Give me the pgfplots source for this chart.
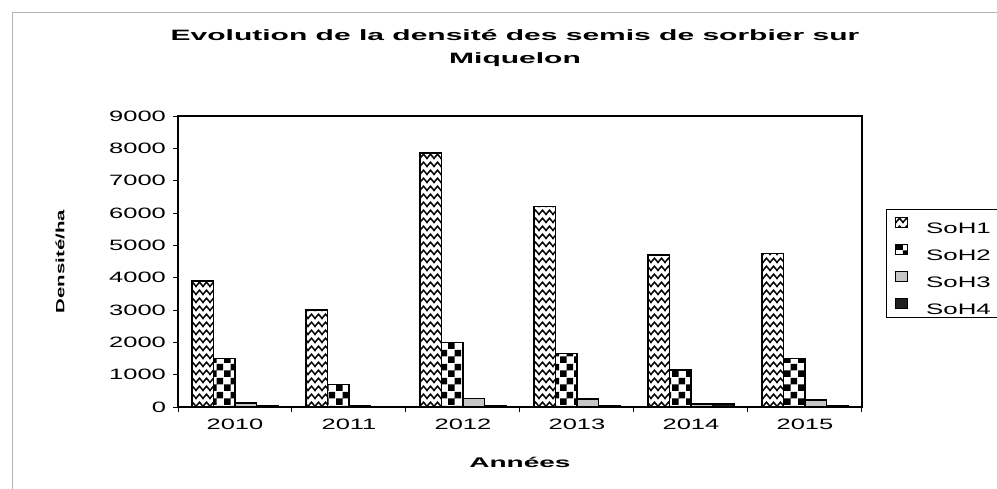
\documentclass[border=0pt]{standalone}
\usepackage{fontspec}
\setmainfont[FakeStretch=1.7]{Liberation Sans}
\newfontfamily\boldstretch[FakeStretch=2.0]{Liberation Sans}
\usepackage{pgfplots}
\pgfplotsset{compat=1.18}
\usetikzlibrary{patterns}
\pgfdeclarepatternformonly{zigzag}{\pgfpoint{-0.3pt}{-0.3pt}}{\pgfpoint{3.8pt}{4.3pt}}{\pgfpoint{3.5pt}{4pt}}{%
  \pgfsetlinewidth{0.75pt}%
  \pgfpathmoveto{\pgfpoint{-0.3pt}{0.5pt}}%
  \pgfpathlineto{\pgfpoint{1.75pt}{2.9pt}}%
  \pgfpathlineto{\pgfpoint{3.8pt}{0.5pt}}%
  \pgfusepath{stroke}}
\pgfdeclarepatternformonly{mychecker}{\pgfpointorigin}{\pgfpoint{7pt}{7pt}}{\pgfpoint{7pt}{7pt}}{%
  \pgfpathrectangle{\pgfpointorigin}{\pgfpoint{3.5pt}{3.5pt}}%
  \pgfpathrectangle{\pgfpoint{3.5pt}{3.5pt}}{\pgfpoint{3.5pt}{3.5pt}}%
  \pgfusepath{fill}}
\pgfplotstableread{
x SoHa SoHb SoHc SoHd
0 3900 1500 130 50
1 3000  700  30 20
2 7850 2000 270 40
3 6200 1650 250 30
4 4700 1150  90 100
5 4750 1500 220 30
}\data
\begin{document}
\begin{tikzpicture}[x=1pt,y=1pt]
\useasboundingbox (0,0) rectangle (498.5,244);
\draw[gray!60, line width=0.5pt] (6,-5) -- (6,237.5) -- (505,237.5);
\node[align=center, font=\boldstretch\bfseries\fontsize{7.5}{11.5}\selectfont] at (257.5,219.75) {Evolution de la densité des semis de sorbier sur\\Miquelon};
\begin{axis}[
  at={(89pt,40.5pt)}, anchor=south west,
  scale only axis, width=342pt, height=145.5pt,
  xmin=-0.5, xmax=5.5, ymin=0, ymax=9000,
  ybar=0pt, bar width=10.75pt,
  xtick={0,...,5}, xticklabels={2010,2011,2012,2013,2014,2015},
  minor xtick={-0.5,0.5,...,5.5},
  ytick={0,1000,...,9000},
  yticklabels={0,1000,2000,3000,4000,5000,6000,7000,8000,9000},
  tick align=outside, major tick length=2.5pt, minor tick length=2.5pt,
  xtick pos=bottom, ytick pos=left,
  major x tick style={draw=none},
  minor x tick style={draw=black, line width=0.5pt},
  y tick style={draw=black, line width=0.5pt},
  axis line style={line width=0.6pt},
  tick label style={font=\fontsize{7.5}{9}\selectfont},
  xlabel={Années},
  xlabel style={font=\boldstretch\bfseries\fontsize{7}{8}\selectfont, at={(axis description cs:0.5,-0.192)}, anchor=center},
  ylabel={Densité/ha},
  ylabel style={font=\bfseries\fontsize{6}{7}\selectfont, at={(axis description cs:-0.1725,0.5)}, anchor=center},
  legend style={at={(1.048,0.655)}, anchor=north west, draw=none, fill=none, inner sep=0pt,
    row sep=5.4pt, column sep=9pt, font=\fontsize{7.6}{9}\selectfont,
    nodes={inner sep=0pt, text height=5.4pt, text depth=0pt}},
  legend cell align=left,
  legend image code/.code={\draw[#1, line width=0.5pt] (0pt,0.2pt) rectangle (6pt,5.2pt);},
]
\addplot[draw=black, line width=0.75pt, pattern=zigzag] table[x=x, y=SoHa] {\data};
\addplot[draw=black, line width=0.75pt, pattern=mychecker] table[x=x, y=SoHb] {\data};
\addplot[draw=black, line width=0.75pt, fill=gray!45] table[x=x, y=SoHc] {\data};
\addplot[draw=black, line width=0.75pt, fill=black!88] table[x=x, y=SoHd] {\data};
\legend{SoH1,SoH2,SoH3,SoH4}
\end{axis}
\draw[black, line width=0.5pt] (505,139) -- (443,139) -- (443,85) -- (505,85);
\end{tikzpicture}
\end{document}
